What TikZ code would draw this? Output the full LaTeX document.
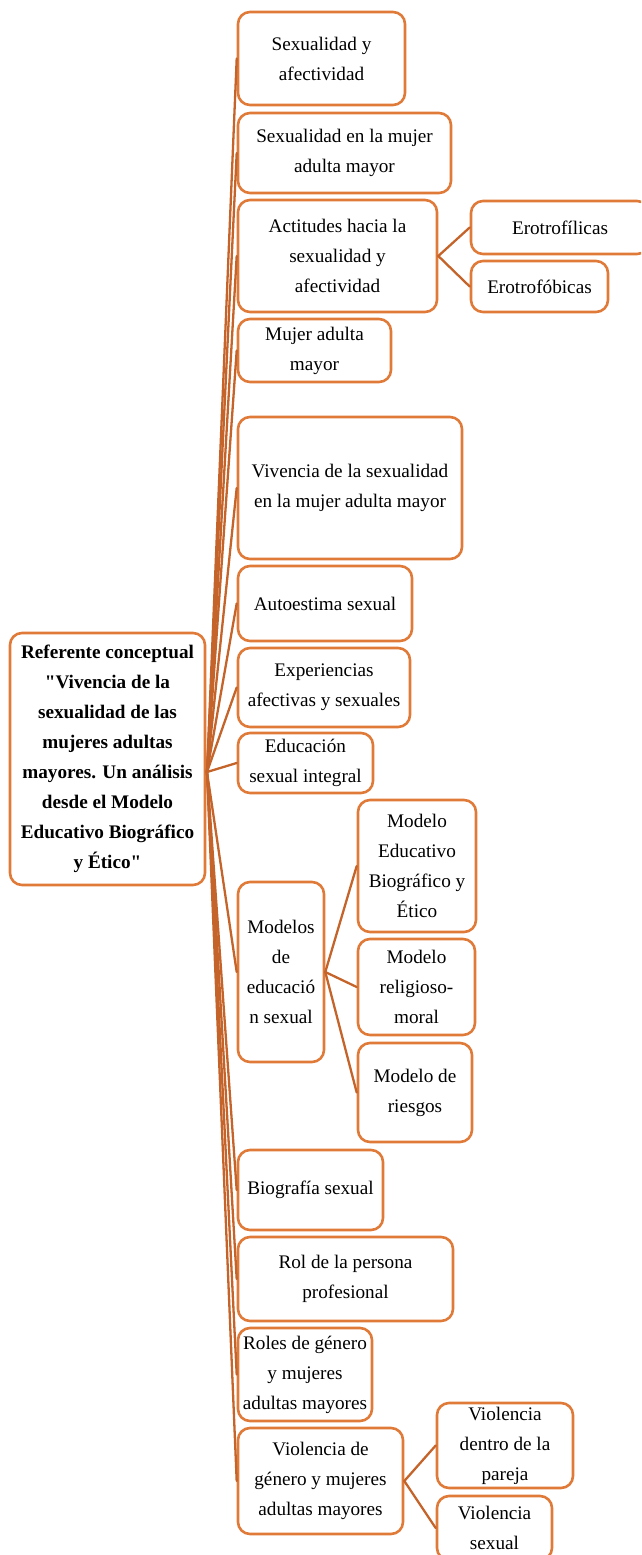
\documentclass[tikz,border=0pt]{standalone}
\usepackage{fontspec}
\setmainfont{Liberation Serif}[Ligatures=TeXOff]
\definecolor{borde}{RGB}{224,122,56}
\definecolor{cobre}{RGB}{196,100,42}

\begin{document}
\begin{tikzpicture}[x=1pt,y=-1pt,line cap=round,line join=round,
  caja/.style={draw=borde,line width=2.6pt,rounded corners=12pt,align=center,
    inner sep=2pt,font=\fontsize{19.2}{30}\selectfont},
  rama/.style={draw=cobre,line width=2.3pt}]
  \useasboundingbox (0,0) rectangle (641,1555);
  \clip (0,0) rectangle (641,1555);
  % nodo central
  \node[caja,font=\bfseries\fontsize{19.2}{30}\selectfont,
    minimum width=195pt,minimum height=252pt] (raiz) at (107.5,759)
    {Referente conceptual\\"Vivencia de la\\sexualidad de las\\mujeres adultas\\
     mayores. Un análisis\\desde el Modelo\\Educativo Biográfico\\y Ético"};
  \coordinate (hub) at (207,772);
  % ramas principales
  \node[caja,minimum width=167pt,minimum height=93pt] (b1) at (321.5,58.5) {Sexualidad y\\afectividad};
  \node[caja,minimum width=213pt,minimum height=80pt] (b2) at (344.5,153) {Sexualidad en la mujer\\adulta mayor};
  \node[caja,minimum width=199pt,minimum height=112pt] (b3) at (337.5,256) {Actitudes hacia la\\sexualidad y\\afectividad};
  \node[caja,minimum width=153pt,minimum height=63pt] (b4) at (314.5,350.5) {Mujer adulta\\mayor};
  \node[caja,minimum width=224pt,minimum height=142pt] (b5) at (350,488) {Vivencia de la sexualidad\\en la mujer adulta mayor};
  \node[caja,minimum width=174pt,minimum height=75pt] (b6) at (325,603.5) {Autoestima sexual};
  \node[caja,minimum width=172pt,minimum height=79pt] (b7) at (324,687.5) {Experiencias\\afectivas y sexuales};
  \node[caja,minimum width=135pt,minimum height=60pt] (b8) at (305.5,763) {Educación\\sexual integral};
  \node[caja,minimum width=86pt,minimum height=180pt] (b9) at (281,972) {Modelos\\de\\educació\\n sexual};
  \node[caja,minimum width=145pt,minimum height=80pt] (b10) at (310.5,1190) {Biografía sexual};
  \node[caja,minimum width=215pt,minimum height=84pt] (b11) at (345.5,1279) {Rol de la persona\\profesional};
  \node[caja,minimum width=134pt,minimum height=93pt] (b12) at (305,1374.5) {Roles de género\\y mujeres\\adultas mayores};
  \node[caja,minimum width=165pt,minimum height=106pt] (b13) at (320.5,1481) {Violencia de\\género y mujeres\\adultas mayores};
  \foreach \b in {b1,b2,b3,b4,b5,b6,b7,b8,b9,b10,b11,b12,b13}
    \draw[rama] (hub) -- (\b.west);
  % ramas secundarias
  \node[caja,minimum width=178pt,minimum height=53pt] (e1) at (560,227.5) {Erotrofílicas};
  \node[caja,minimum width=137pt,minimum height=51pt] (e2) at (539.5,286.5) {Erotrofóbicas};
  \node[caja,minimum width=118pt,minimum height=132pt] (m1) at (417,866) {Modelo\\Educativo\\Biográfico y\\Ético};
  \node[caja,minimum width=117pt,minimum height=96pt] (m2) at (416.5,987) {Modelo\\religioso-\\moral};
  \node[caja,minimum width=114pt,minimum height=99pt] (m3) at (415,1092.5) {Modelo de\\riesgos};
  \node[caja,minimum width=136pt,minimum height=85pt] (v1) at (505,1445.5) {Violencia\\dentro de la\\pareja};
  \node[caja,minimum width=115pt,minimum height=64pt] (v2) at (494.5,1528) {Violencia\\sexual};
  \foreach \p/\h in {b3/e1,b3/e2,b9/m1,b9/m2,b9/m3,b13/v1,b13/v2}
    \draw[rama] (\p.east) -- (\h.west);
\end{tikzpicture}
\end{document}
